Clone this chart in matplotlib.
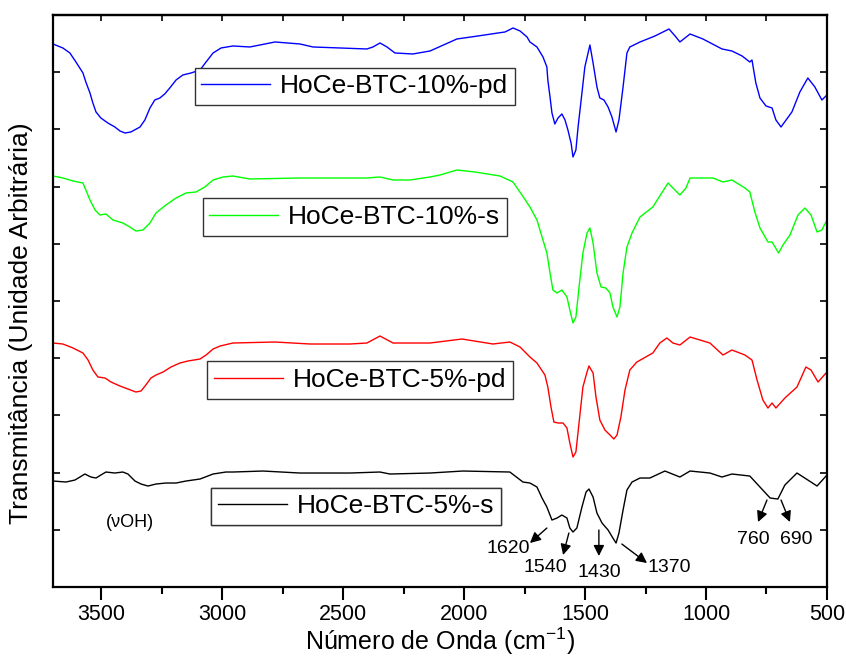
import numpy as np
import matplotlib.pyplot as plt
from matplotlib.ticker import MultipleLocator

plt.rcParams['font.family'] = ['Liberation Sans', 'DejaVu Sans']

# wavenumbers (cm-1) and transmittance (arbitrary units, already offset)
wn_pd10 = [3700, 3659, 3630, 3605, 3576, 3564, 3547, 3535, 3522, 3502, 3473, 3444, 3423, 3402,
           3378, 3340, 3320, 3299, 3279, 3258, 3238, 3217, 3191, 3163, 3129, 3092, 3067, 3038,
           3005, 2956, 2886, 2782, 2679, 2625, 2402, 2377, 2348, 2319, 2286, 2212, 2141, 2030,
           1943, 1860, 1831, 1798, 1769, 1740, 1728, 1699, 1674, 1658, 1654, 1645, 1637, 1625,
           1612, 1596, 1583, 1571, 1558, 1550, 1538, 1529, 1513, 1501, 1480, 1467, 1451, 1439,
           1422, 1405, 1389, 1372, 1360, 1343, 1327, 1315, 1273, 1211, 1153, 1128, 1108, 1066,
           1013, 934, 893, 851, 819, 810, 794, 777, 752, 727, 711, 690, 645, 612, 579, 550,
           521, 500]
t_pd10 = [543, 539, 534, 525, 514, 505, 494, 484, 475, 469, 464, 460, 456, 454,
          455, 460, 467, 479, 487, 489, 493, 499, 507, 512, 514, 517, 525, 534,
          539, 541, 540, 545, 543, 540, 538, 540, 544, 540, 534, 533, 536, 548,
          551, 554, 555, 559, 556, 550, 545, 540, 530, 520, 507, 490, 474, 463,
          469, 473, 467, 457, 444, 430, 437, 460, 494, 520, 542, 524, 500, 489,
          487, 480, 470, 455, 467, 500, 534, 540, 545, 551, 558, 551, 545, 553,
          548, 538, 536, 531, 525, 527, 504, 489, 481, 479, 467, 460, 475, 495, 509, 500,
          487, 492]

wn_s10 = [3700, 3659, 3617, 3576, 3564, 3547, 3526, 3506, 3481, 3452, 3411, 3382, 3357, 3328,
          3299, 3274, 3233, 3191, 3150, 3109, 3072, 3038, 2997, 2956, 2886, 2679, 2555, 2402,
          2348, 2294, 2224, 2141, 2100, 2030, 1955, 1852, 1798, 1761, 1728, 1699, 1678, 1658,
          1645, 1633, 1616, 1596, 1575, 1563, 1550, 1538, 1525, 1509, 1492, 1480, 1467, 1451,
          1434, 1414, 1397, 1385, 1368, 1356, 1343, 1327, 1306, 1273, 1220, 1157, 1137, 1108,
          1083, 1066, 971, 930, 893, 839, 819, 798, 777, 744, 727, 700, 682, 653, 620, 591,
          566, 541, 521, 500]
t_s10 = [411, 409, 406, 404, 397, 387, 377, 372, 373, 367, 364, 360, 356, 357,
         364, 374, 382, 389, 394, 395, 400, 407, 410, 411, 408, 409, 409, 409,
         410, 407, 407, 410, 412, 417, 415, 411, 405, 392, 380, 367, 350, 334,
         314, 297, 294, 297, 290, 277, 264, 270, 300, 334, 354, 359, 344, 314,
         300, 299, 294, 280, 270, 280, 314, 340, 354, 370, 380, 404, 399, 392,
         399, 409, 409, 405, 407, 399, 395, 375, 359, 345, 345, 334, 342, 352, 372, 379,
         372, 355, 357, 367]

wn_pd5 = [3700, 3659, 3617, 3576, 3555, 3535, 3514, 3485, 3460, 3423, 3390, 3357, 3336, 3316,
          3295, 3274, 3245, 3212, 3175, 3142, 3092, 3067, 3038, 3009, 2956, 2782, 2637, 2472,
          2402, 2348, 2294, 2141, 2009, 1881, 1811, 1769, 1728, 1699, 1666, 1654, 1641, 1629,
          1612, 1591, 1575, 1563, 1550, 1538, 1525, 1509, 1492, 1484, 1467, 1455, 1439, 1418,
          1397, 1381, 1368, 1352, 1335, 1315, 1286, 1220, 1191, 1162, 1137, 1108, 1066, 984,
          930, 893, 839, 810, 789, 765, 744, 727, 711, 674, 624, 587, 566, 537, 500]
t_pd5 = [244, 243, 239, 234, 227, 217, 210, 209, 205, 201, 198, 195, 196, 202,
         209, 212, 215, 220, 224, 226, 228, 232, 238, 241, 244, 245, 243, 243,
         244, 251, 244, 244, 248, 243, 245, 240, 230, 224, 212, 200, 180, 165,
         164, 164, 159, 144, 130, 135, 164, 200, 215, 221, 214, 190, 167, 157,
         152, 148, 152, 170, 197, 217, 225, 234, 244, 249, 244, 242, 250, 244,
         232, 237, 232, 227, 207, 187, 179, 184, 179, 189, 200, 220, 217, 205, 215]

wn_s5 = [3700, 3646, 3609, 3568, 3543, 3522, 3502, 3481, 3444, 3411, 3390, 3361, 3336, 3307,
         3274, 3233, 3191, 3150, 3092, 3038, 2985, 2956, 2832, 2679, 2472, 2348, 2307, 2141,
         2005, 1811, 1757, 1728, 1699, 1678, 1658, 1637, 1616, 1596, 1575, 1563, 1550, 1534,
         1513, 1496, 1484, 1467, 1451, 1430, 1405, 1385, 1372, 1360, 1343, 1327, 1306, 1273,
         1232, 1170, 1108, 1066, 984, 934, 893, 819, 777, 735, 703, 674, 624, 579, 541, 500]
t_s5 = [106, 105, 107, 113, 110, 109, 112, 115, 114, 115, 113, 106, 103, 101,
        103, 104, 104, 106, 108, 113, 115, 115, 116, 114, 114, 115, 113, 114,
        116, 115, 105, 104, 100, 89, 80, 67, 69, 72, 69, 59, 55, 59,
        80, 95, 98, 90, 74, 64, 57, 49, 44, 54, 77, 97, 105, 109,
        109, 116, 110, 116, 114, 110, 113, 111, 100, 89, 88, 102, 114, 107, 101, 112]

labels = ['HoCe-BTC-10%-pd', 'HoCe-BTC-10%-s', 'HoCe-BTC-5%-pd', 'HoCe-BTC-5%-s']
colors = ['#0000ff', '#00ff00', '#ff0000', '#000000']
series = [(wn_pd10, t_pd10), (wn_s10, t_s10), (wn_pd5, t_pd5), (wn_s5, t_s5)]
legend_pos = [(0.390, 0.875), (0.390, 0.647), (0.397, 0.362), (0.392, 0.141)]

peak_labels = ['1620', '1540', '1430', '1370', '760', '690']
peak_text = [(1819, 39), (1666, 20), (1443, 15), (1153, 20), (806, 48), (628, 48)]
peak_tail = [(1658, 59), (1567, 54), (1443, 57), (1348, 43), (748, 87), (690, 87)]
peak_head = [(1728, 44), (1591, 32), (1443, 31), (1244, 24), (785, 65), (653, 65)]

fig = plt.figure(figsize=(8.46, 6.57), dpi=100)
ax = fig.add_axes([0.0626, 0.1065, 0.9149, 0.8707])

for (x, y), c, lab, pos in zip(series, colors, labels, legend_pos):
    line, = ax.plot(x, y, color=c, lw=1.0)
    leg = ax.legend([line], [lab], loc='center', bbox_to_anchor=pos, fontsize=19,
                    frameon=True, fancybox=False, edgecolor='#333333', framealpha=1,
                    borderpad=0.25, handlelength=2.6, handletextpad=0.4, borderaxespad=0)
    leg.get_frame().set_linewidth(1.0)
    ax.add_artist(leg)

for lab, tp, tl, hd in zip(peak_labels, peak_text, peak_tail, peak_head):
    ax.annotate('', xy=hd, xytext=tl,
                arrowprops=dict(arrowstyle='-|>', color='k', lw=1, mutation_scale=16, shrinkA=0, shrinkB=0))
    ax.text(tp[0], tp[1], lab, fontsize=14, ha='center', va='center')

ax.text(3382, 65, '(νOH)', fontsize=13, ha='center', va='center')

ax.set_xlim(3700, 500)
ax.set_ylim(0, 572)
ax.xaxis.set_major_locator(MultipleLocator(500))
ax.xaxis.set_minor_locator(MultipleLocator(250))
ax.set_yticks(np.linspace(0, 572, 11))
ax.tick_params(axis='x', which='major', direction='out', length=9, width=1.5, labelsize=15.5, pad=3)
ax.tick_params(axis='x', which='minor', direction='out', length=5, width=1.5)
ax.tick_params(axis='y', direction='in', left=True, right=True, labelleft=False, length=5, width=1.2)
for s in ax.spines.values():
    s.set_linewidth(1.6)

top = ax.secondary_xaxis('top')
top.xaxis.set_major_locator(MultipleLocator(500))
top.xaxis.set_minor_locator(MultipleLocator(250))
top.tick_params(which='both', direction='in', length=4, width=1.2, labeltop=False)
top.spines['top'].set_linewidth(1.6)

ax.set_xlabel('Número de Onda (cm$^{\\mathregular{-1}}$)', fontsize=18)
ax.xaxis.set_label_coords(0.5, -0.067)
ax.set_ylabel('Transmitância (Unidade Arbitrária)', fontsize=19)
ax.yaxis.set_label_coords(-0.026, 0.4615)

fig.savefig('out.png', dpi=100)
